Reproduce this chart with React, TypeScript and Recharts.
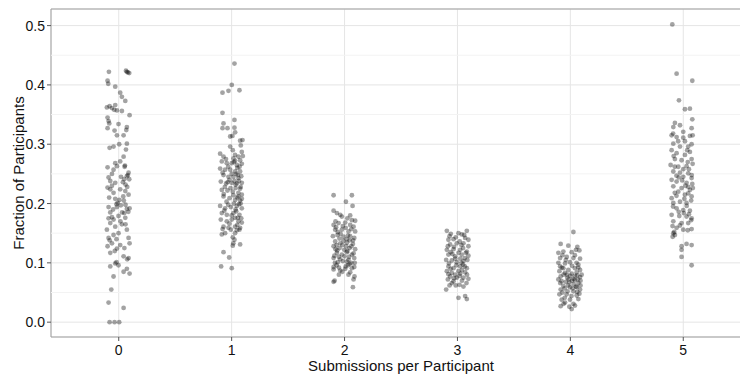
import {
  ScatterChart,
  Scatter,
  XAxis,
  YAxis,
  CartesianGrid,
  ReferenceLine,
  ReferenceArea,
} from "recharts";

// submissions per participant (x categories)
const categories = [0, 1, 2, 3, 4, 5];

// [horizontal jitter, fraction of participants] per category
const runs0 = [
  [-0.087, 0.422], [0.064, 0.424], [0.072, 0.422], [0.081, 0.421], [0.093, 0.42],
  [-0.099, 0.407], [-0.093, 0.402], [-0.031, 0.397], [0.013, 0.387], [0.028, 0.38],
  [0.058, 0.373], [-0.031, 0.366], [-0.081, 0.364], [-0.06, 0.361], [-0.04, 0.358],
  [-0.016, 0.357], [-0.105, 0.362], [0.028, 0.356], [0.096, 0.349], [-0.099, 0.345],
  [-0.09, 0.339], [-0.084, 0.335], [-0.099, 0.327], [-0.002, 0.334], [-0.037, 0.323],
  [-0.016, 0.315], [0.072, 0.329], [0.067, 0.324], [0.043, 0.315], [0.004, 0.3],
  [-0.081, 0.294], [-0.046, 0.296], [0.064, 0.291], [0.072, 0.301], [0.043, 0.279],
  [0.013, 0.271], [-0.031, 0.268], [-0.016, 0.263], [-0.046, 0.257], [0.055, 0.264],
  [0.052, 0.262], [-0.099, 0.261], [-0.09, 0.244], [0.087, 0.252], [0.072, 0.246],
  [0.049, 0.241], [0.037, 0.236], [0.093, 0.241], [0.081, 0.248], [0.06, 0.232],
  [-0.075, 0.238], [-0.031, 0.235], [-0.099, 0.227], [-0.075, 0.224], [-0.046, 0.218],
  [-0.06, 0.23], [0.013, 0.224], [0.058, 0.221], [0.087, 0.215], [0.075, 0.228],
  [0.04, 0.212], [-0.031, 0.208], [-0.01, 0.201], [0.019, 0.197], [-0.016, 0.194],
  [-0.02, 0.199], [0.005, 0.206], [0.072, 0.191], [0.096, 0.192], [0.049, 0.184],
  [0.085, 0.186], [0.06, 0.198], [-0.09, 0.194], [-0.075, 0.185], [-0.046, 0.173],
  [-0.002, 0.179], [-0.075, 0.167], [-0.031, 0.161], [-0.105, 0.156], [-0.06, 0.177],
  [0.058, 0.176], [0.028, 0.165], [0.072, 0.156], [0.015, 0.17], [-0.002, 0.15],
  [-0.046, 0.147], [-0.09, 0.142], [-0.06, 0.133], [-0.08, 0.138], [0.087, 0.142],
  [0.096, 0.133], [0.013, 0.13], [-0.016, 0.124], [-0.099, 0.128], [-0.075, 0.117],
  [-0.035, 0.12], [0.043, 0.111], [0.087, 0.108], [0.075, 0.106], [-0.031, 0.099],
  [-0.002, 0.096], [-0.02, 0.101], [0.072, 0.09], [0.043, 0.085], [0.096, 0.082],
  [-0.075, 0.094], [-0.046, 0.077], [-0.066, 0.055], [-0.09, 0.033], [0.043, 0.024],
  [-0.081, 0], [-0.037, 0], [0.004, 0],
  [-0.06, 0.25], [0.02, 0.245], [-0.085, 0.21], [0.045, 0.205], [-0.05, 0.19],
  [0.03, 0.185], [-0.09, 0.175], [0.06, 0.165], [-0.02, 0.14], [0.05, 0.125],
];

const runs1 = [
  [0.025, 0.436], [0.001, 0.4], [-0.081, 0.387], [-0.028, 0.39], [0.069, 0.391],
  [-0.081, 0.353], [0.025, 0.341], [-0.072, 0.335], [-0.081, 0.327], [-0.037, 0.327],
  [0.025, 0.328], [0.031, 0.32], [0.007, 0.314], [-0.013, 0.313], [0.075, 0.306],
  [0.096, 0.307], [-0.013, 0.296], [0.081, 0.298], [0.01, 0.29], [-0.102, 0.284],
  [0.09, 0.287], [-0.072, 0.279], [0.016, 0.276], [0.06, 0.279], [0.099, 0.28],
  [0.03, 0.282], [-0.087, 0.271], [-0.043, 0.268], [0.001, 0.268], [0.046, 0.265],
  [0.09, 0.267], [0.03, 0.272], [0.075, 0.273], [-0.102, 0.259], [-0.058, 0.257],
  [-0.013, 0.257], [0.031, 0.254], [0.075, 0.254], [0.05, 0.26], [-0.03, 0.262],
  [-0.072, 0.248], [-0.028, 0.245], [0.016, 0.245], [0.06, 0.243], [0.04, 0.25],
  [0.085, 0.246], [-0.096, 0.237], [-0.049, 0.234], [0.001, 0.235], [0.046, 0.234],
  [0.09, 0.235], [0.025, 0.238], [0.065, 0.238], [-0.02, 0.24], [-0.087, 0.223],
  [-0.037, 0.222], [0.01, 0.22], [0.06, 0.218], [0.09, 0.215], [0.035, 0.226],
  [0.075, 0.225], [-0.06, 0.228], [-0.072, 0.212], [-0.019, 0.209], [0.031, 0.206],
  [0.075, 0.205], [0.05, 0.21], [0.09, 0.208], [-0.045, 0.203], [-0.102, 0.196],
  [-0.058, 0.192], [-0.007, 0.194], [0.046, 0.196], [0.09, 0.192], [0.065, 0.199],
  [0.02, 0.2], [-0.087, 0.184], [-0.043, 0.181], [0.016, 0.184], [0.069, 0.181],
  [0.04, 0.187], [-0.096, 0.173], [-0.043, 0.17], [0.001, 0.173], [0.06, 0.17],
  [0.03, 0.176], [0.085, 0.175], [-0.072, 0.161], [-0.028, 0.159], [0.031, 0.161],
  [0.075, 0.159], [0.05, 0.164], [-0.058, 0.15], [-0.087, 0.148], [-0.007, 0.156],
  [0.046, 0.155], [0.069, 0.156], [0.01, 0.143], [0.025, 0.139], [0.075, 0.131],
  [0.01, 0.129], [0.015, 0.133], [-0.072, 0.118], [-0.022, 0.109], [-0.093, 0.094],
  [0.001, 0.091],
  [-0.05, 0.275], [0.02, 0.27], [0.07, 0.262], [-0.08, 0.252], [0.0, 0.25],
  [0.055, 0.248], [-0.035, 0.236], [0.035, 0.232], [0.08, 0.228], [-0.01, 0.226],
  [-0.07, 0.216], [0.015, 0.214], [0.06, 0.212], [-0.03, 0.198], [0.035, 0.19],
  [0.08, 0.2], [-0.065, 0.188], [0.0, 0.18], [0.055, 0.176], [-0.02, 0.166],
  [0.09, 0.168], [-0.08, 0.157], [0.03, 0.15],
];

const runs2 = [
  [-0.097, 0.214], [0.065, 0.214], [0.012, 0.203], [0.071, 0.196], [-0.097, 0.188],
  [-0.068, 0.184], [-0.038, 0.181], [-0.024, 0.178], [0.05, 0.18], [0.094, 0.171],
  [0.065, 0.172], [-0.097, 0.164], [-0.053, 0.167], [0.006, 0.168], [0.05, 0.164],
  [0.08, 0.161], [-0.08, 0.17], [0.025, 0.175], [-0.083, 0.156], [-0.024, 0.156],
  [0.035, 0.153], [0.094, 0.153], [-0.06, 0.152], [0.01, 0.159], [-0.103, 0.145],
  [-0.062, 0.147], [-0.009, 0.144], [0.05, 0.145], [0.086, 0.142], [-0.035, 0.149],
  [0.02, 0.14], [-0.083, 0.136], [-0.038, 0.133], [0.021, 0.134], [0.074, 0.132],
  [0.045, 0.138], [-0.01, 0.137], [-0.07, 0.13], [-0.097, 0.128], [-0.044, 0.125],
  [-0.003, 0.122], [0.044, 0.125], [0.094, 0.123], [0.015, 0.128], [-0.065, 0.121],
  [-0.068, 0.117], [-0.024, 0.114], [0.021, 0.118], [0.065, 0.114], [0.04, 0.11],
  [-0.09, 0.112], [0.0, 0.111], [-0.097, 0.108], [-0.038, 0.106], [0.035, 0.105],
  [0.086, 0.108], [-0.06, 0.101], [0.021, 0.102], [0.06, 0.1], [-0.097, 0.093],
  [-0.097, 0.089], [-0.038, 0.087], [0.006, 0.09], [0.065, 0.091], [0.086, 0.093],
  [-0.07, 0.096], [0.03, 0.096], [0.035, 0.08], [0.088, 0.077], [0.08, 0.072],
  [-0.088, 0.07], [-0.097, 0.068], [0.074, 0.059], [-0.02, 0.085], [0.05, 0.084],
  [-0.05, 0.08],
  [-0.075, 0.16], [-0.015, 0.162], [0.06, 0.157], [-0.045, 0.141], [0.03, 0.146],
  [0.075, 0.138], [-0.02, 0.13], [0.06, 0.128], [-0.08, 0.123], [0.025, 0.12],
  [-0.05, 0.11], [0.08, 0.116], [-0.015, 0.103], [0.045, 0.098], [-0.085, 0.1],
  [0.01, 0.094], [0.09, 0.1], [-0.05, 0.092],
];

const runs3 = [
  [-0.094, 0.154], [0.083, 0.154], [-0.059, 0.149], [0.009, 0.15], [0.038, 0.148],
  [-0.08, 0.139], [-0.035, 0.14], [0.097, 0.139], [0.068, 0.142], [-0.065, 0.131],
  [-0.006, 0.133], [0.053, 0.133], [0.097, 0.128], [0.02, 0.136], [-0.03, 0.127],
  [-0.094, 0.122], [-0.035, 0.123], [0.024, 0.122], [0.083, 0.119], [0.05, 0.125],
  [-0.06, 0.118], [-0.08, 0.114], [-0.021, 0.111], [0.038, 0.114], [0.097, 0.112],
  [0.01, 0.117], [0.065, 0.108], [-0.1, 0.105], [-0.05, 0.104], [-0.006, 0.101],
  [0.053, 0.103], [0.088, 0.105], [0.025, 0.107], [-0.075, 0.099], [-0.08, 0.094],
  [-0.035, 0.091], [0.024, 0.094], [0.083, 0.091], [0.05, 0.097], [-0.01, 0.096],
  [-0.094, 0.086], [-0.05, 0.083], [0.009, 0.086], [0.068, 0.084], [0.04, 0.088],
  [-0.02, 0.08], [-0.065, 0.077], [-0.006, 0.075], [0.053, 0.075], [0.097, 0.073],
  [0.02, 0.078], [-0.085, 0.072], [-0.05, 0.066], [0.018, 0.063], [0.053, 0.06],
  [-0.035, 0.069], [0.08, 0.066], [-0.1, 0.055], [0.009, 0.041], [0.068, 0.044],
  [0.083, 0.039],
  [-0.07, 0.145], [0.06, 0.147], [-0.015, 0.143], [-0.085, 0.128], [0.035, 0.13],
  [-0.045, 0.115], [0.075, 0.117], [-0.02, 0.107], [0.035, 0.1], [-0.06, 0.09],
  [0.065, 0.094], [-0.08, 0.081], [0.025, 0.082], [-0.03, 0.074], [0.085, 0.08],
  [-0.015, 0.062], [0.04, 0.07], [-0.07, 0.062],
];

const runs4 = [
  [0.027, 0.152], [-0.086, 0.132], [-0.018, 0.129], [0.062, 0.127], [-0.106, 0.117],
  [-0.062, 0.119], [0.012, 0.118], [0.08, 0.121], [0.05, 0.122], [-0.091, 0.108],
  [-0.032, 0.11], [0.027, 0.108], [0.086, 0.107], [-0.106, 0.1], [-0.047, 0.099],
  [-0.003, 0.101], [0.071, 0.097], [-0.091, 0.094], [-0.062, 0.091], [-0.018, 0.088],
  [0.041, 0.091], [0.086, 0.088], [-0.097, 0.086], [-0.047, 0.083], [0.012, 0.082],
  [0.056, 0.084], [0.1, 0.08], [-0.086, 0.077], [-0.027, 0.075], [0.027, 0.073],
  [0.086, 0.076], [-0.077, 0.069], [-0.009, 0.067], [0.041, 0.071], [0.071, 0.066],
  [-0.106, 0.072], [0.0, 0.078], [0.06, 0.079], [-0.06, 0.08], [0.015, 0.07],
  [-0.04, 0.068], [0.03, 0.064], [0.09, 0.07], [-0.02, 0.062], [0.05, 0.06],
  [-0.062, 0.061], [-0.003, 0.059], [0.056, 0.059], [-0.086, 0.055], [0.027, 0.052],
  [0.086, 0.055], [-0.097, 0.047], [-0.032, 0.047], [0.056, 0.045], [-0.077, 0.038],
  [-0.003, 0.038], [0.071, 0.039], [-0.047, 0.033], [0.027, 0.031], [-0.086, 0.027],
  [-0.009, 0.026], [0.041, 0.028], [0.012, 0.022], [-0.07, 0.05], [0.01, 0.044],
  [0.08, 0.048], [-0.05, 0.041],
  [-0.07, 0.113], [0.04, 0.113], [-0.04, 0.105], [0.055, 0.1], [-0.075, 0.092],
  [0.015, 0.095], [0.07, 0.092], [-0.03, 0.08], [0.04, 0.078], [-0.09, 0.066],
  [-0.015, 0.072], [0.065, 0.072], [-0.05, 0.057], [0.02, 0.057], [0.09, 0.062],
  [-0.025, 0.052], [0.06, 0.051], [-0.06, 0.031],
];

const runs5 = [
  [-0.097, 0.502], [-0.059, 0.419], [0.08, 0.407], [-0.038, 0.374], [0.015, 0.359],
  [0.059, 0.36], [0.08, 0.342], [-0.074, 0.336], [-0.029, 0.332], [-0.088, 0.329],
  [0.074, 0.327], [0.0, 0.321], [-0.103, 0.315], [-0.059, 0.312], [0.0, 0.311],
  [0.059, 0.314], [0.083, 0.315], [-0.09, 0.318], [-0.088, 0.301], [-0.029, 0.296],
  [0.044, 0.296], [0.074, 0.3], [0.015, 0.305], [-0.103, 0.29], [-0.059, 0.285],
  [0.015, 0.282], [0.059, 0.287], [-0.085, 0.28], [-0.015, 0.273], [-0.074, 0.275],
  [0.074, 0.275], [0.04, 0.27], [-0.112, 0.265], [-0.044, 0.262], [0.029, 0.263],
  [0.083, 0.267], [0.0, 0.258], [-0.088, 0.254], [-0.029, 0.252], [0.044, 0.251],
  [0.0, 0.245], [0.075, 0.248], [-0.06, 0.247], [-0.103, 0.24], [-0.059, 0.237],
  [0.074, 0.243], [0.029, 0.235], [-0.01, 0.239], [0.08, 0.233], [-0.088, 0.229],
  [-0.015, 0.226], [0.059, 0.223], [-0.044, 0.22], [0.02, 0.23], [0.085, 0.226],
  [0.015, 0.215], [0.074, 0.212], [-0.103, 0.209], [0.044, 0.217], [-0.06, 0.213],
  [-0.029, 0.203], [-0.088, 0.201], [0.029, 0.201], [0.07, 0.205], [-0.059, 0.192],
  [0.0, 0.189], [0.059, 0.188], [-0.09, 0.195], [0.03, 0.196], [-0.103, 0.181],
  [-0.035, 0.179], [0.029, 0.178], [0.074, 0.175], [0.005, 0.184], [-0.088, 0.17],
  [-0.015, 0.167], [0.044, 0.167], [0.07, 0.172], [-0.059, 0.159], [0.0, 0.156],
  [0.074, 0.157], [-0.095, 0.162], [-0.088, 0.15], [-0.074, 0.147], [-0.094, 0.144],
  [-0.08, 0.152], [0.029, 0.132], [0.074, 0.13], [-0.015, 0.128], [-0.015, 0.122],
  [-0.015, 0.11], [0.074, 0.096],
  [-0.045, 0.305], [0.035, 0.29], [-0.075, 0.262], [0.05, 0.258], [-0.04, 0.244],
  [0.045, 0.228], [-0.075, 0.218], [0.01, 0.208], [-0.04, 0.186], [0.05, 0.182],
  [-0.03, 0.163], [0.04, 0.155],
];

const runs = [runs0, runs1, runs2, runs3, runs4, runs5];

const yTicks = [0, 0.1, 0.2, 0.3, 0.4, 0.5];
const yMinorTicks = [0.05, 0.15, 0.25, 0.35, 0.45];

const points = categories.flatMap((c, i) =>
  runs[i].map(([dx, y]) => ({ x: c + dx, y }))
);

const font = "'Liberation Sans', Arial, sans-serif";

export default function App() {
  return (
    <div
      style={{
        position: "fixed",
        left: 0,
        top: 0,
        width: 740,
        height: 375,
        overflow: "hidden",
        background: "#fff",
        fontFamily: font,
      }}
    >
      <ScatterChart
        width={760}
        height={375}
        margin={{ top: 9, right: 9, left: 11, bottom: 14 }}
      >
        <CartesianGrid stroke="#e5e5e5" strokeWidth={1} />
        {yMinorTicks.map((v) => (
          <ReferenceLine key={v} y={v} stroke="#f3f3f3" strokeWidth={1} />
        ))}
        <XAxis
          type="number"
          dataKey="x"
          domain={[-0.6, 5.6]}
          ticks={categories}
          allowDataOverflow
          height={24}
          tickSize={4}
          tickMargin={4}
          axisLine={false}
          tickLine={{ stroke: "#555" }}
          tick={{ fill: "#111", fontSize: 14, fontFamily: font }}
          label={{
            value: "Submissions per Participant",
            position: "bottom",
            offset: -1,
            fill: "#111",
            fontSize: 15,
            fontFamily: font,
          }}
        />
        <YAxis
          type="number"
          dataKey="y"
          domain={[-0.025, 0.528]}
          ticks={yTicks}
          allowDataOverflow
          width={40}
          tickSize={4}
          tickMargin={2}
          axisLine={false}
          tickLine={{ stroke: "#555" }}
          tickFormatter={(v: number) => v.toFixed(1)}
          tick={{ fill: "#111", fontSize: 14, fontFamily: font }}
          label={{
            value: "Fraction of Participants",
            angle: -90,
            position: "insideLeft",
            offset: 8,
            fill: "#111",
            fontSize: 15,
            fontFamily: font,
            style: { textAnchor: "middle" },
          }}
        />
        <ReferenceArea
          x1={-0.6}
          x2={5.6}
          y1={-0.025}
          y2={0.528}
          fill="none"
          stroke="#a0a0a0"
          strokeWidth={1}
        />
        <Scatter
          data={points}
          isAnimationActive={false}
          shape={(p: any) => (
            <circle cx={p.cx} cy={p.cy} r={2.4} fill="#000" fillOpacity={0.36} />
          )}
        />
      </ScatterChart>
    </div>
  );
}
